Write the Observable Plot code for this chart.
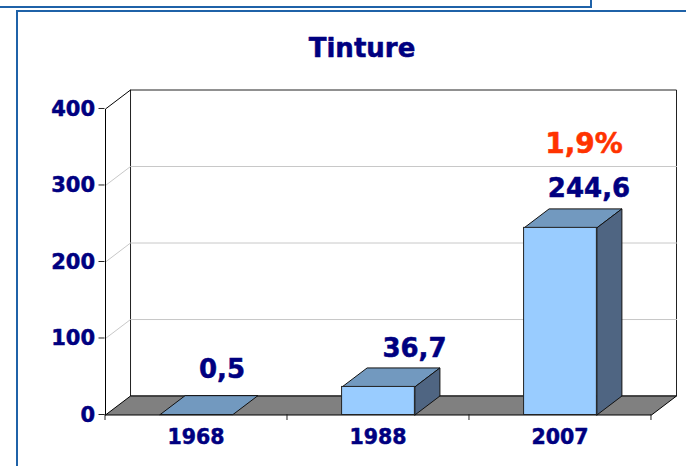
<!DOCTYPE html>
<html>
<head>
<meta charset="utf-8">
<script src="https://cdn.jsdelivr.net/npm/d3@7"></script>
<script src="https://cdn.jsdelivr.net/npm/@observablehq/plot@0.6"></script>
<style>
html,body{margin:0;padding:0;background:#fff;width:686px;height:466px;overflow:hidden}
#panelA{position:absolute;left:-4px;top:-4px;width:592px;height:8px;border:2px solid #1f62a8}
#panelB{position:absolute;left:16px;top:10px;width:700px;height:500px;border:2px solid #1f62a8}
#chart{position:absolute;left:0;top:0}
</style>
</head>
<body>
<div id="panelA"></div>
<div id="panelB"></div>
<div id="chart"></div>
<script>
const chartTitle = "Tinture";
const categories = ["1968", "1988", "2007"];
const values = [0.5, 36.7, 244.6];
const valueLabels = ["0,5", "36,7", "244,6"];
const shareLabel = "1,9%";
const yTicks = [0, 100, 200, 300, 400];
const gridValues = [100, 200, 300];

const navy = "#000080";
const font = "'DejaVu Sans', Verdana, sans-serif";
const depthX = 0.1375, depthY = 24.8, barHalf = 0.2;

const closed = (id, pts) => [...pts, pts[0]].map(([x, y]) => ({id, x, y}));
const bars = values.map((v, i) => ({x1: i + 0.5 - barHalf, x2: i + 0.5 + barHalf, v, i}));
const topFaces = bars.flatMap(b => closed(b.i, [[b.x1, b.v], [b.x2, b.v], [b.x2 + depthX, b.v + depthY], [b.x1 + depthX, b.v + depthY]]));
const sideFaces = bars.slice(1).flatMap(b => closed(b.i, [[b.x2, 0], [b.x2, b.v], [b.x2 + depthX, b.v + depthY], [b.x2 + depthX, depthY]]));
const floor = closed(0, [[0, 0], [3, 0], [3 + depthX, depthY], [depthX, depthY]]);
const back = closed(0, [[depthX, depthY], [3 + depthX, depthY], [3 + depthX, 400 + depthY], [depthX, 400 + depthY]]);
const leftEdges = [
  {id: 0, x: 0, y: 0}, {id: 0, x: 0, y: 400}, {id: 0, x: depthX, y: 400 + depthY}
];
const gridLines = gridValues.flatMap(v => [
  {id: v, x: 0, y: v}, {id: v, x: depthX, y: v + depthY}, {id: v, x: 3 + depthX, y: v + depthY}
]);
const text = (label, x, y, dx, dy, fill = navy, fontSize = 26) => Plot.text([label], {
  x: () => x, y: () => y, dx, dy, fill, stroke: fill, strokeWidth: 0.5, fontSize, fontWeight: "bold", fontFamily: font
});

const plot = Plot.plot({
  width: 686, height: 466,
  marginLeft: 105, marginRight: 10, marginTop: 89.5, marginBottom: 51.5,
  style: {background: "transparent", fontFamily: font, overflow: "visible"},
  x: {domain: [0, 3 + depthX]},
  y: {domain: [0, 400 + depthY]},
  marks: [
    Plot.line(back, {x: "x", y: "y", z: "id", fill: "#fff", stroke: "#222", strokeWidth: 1}),
    Plot.line(gridLines, {x: "x", y: "y", z: "id", stroke: "#c8c8c8", strokeWidth: 1}),
    Plot.line(leftEdges, {x: "x", y: "y", z: "id", stroke: "#000", strokeWidth: 1}),
    Plot.line(floor, {x: "x", y: "y", z: "id", fill: "#808080", stroke: "#000", strokeWidth: 1}),
    Plot.line(topFaces, {x: "x", y: "y", z: "id", fill: "#7299bf", stroke: "#111", strokeWidth: 1}),
    Plot.line(sideFaces, {x: "x", y: "y", z: "id", fill: "#4f6582", stroke: "#111", strokeWidth: 1}),
    Plot.rect(bars.slice(1), {x1: "x1", x2: "x2", y1: 0, y2: "v", fill: "#99ccff", stroke: "#222", strokeWidth: 1}),
    Plot.axisY({ticks: yTicks, tickSize: 6, fill: "none", stroke: "#222", label: null, dx: -0.5, dy: -0.5}),
    Plot.axisY({
      ticks: yTicks, tickSize: 0, tickPadding: 10, label: null, color: navy,
      textStroke: navy, textStrokeWidth: 0.5, dx: -0.5,
      fontSize: 21, fontWeight: "bold", fontFamily: font
    }),
    Plot.axisX({ticks: [0, 1, 2, 3], tickSize: 6, fill: "none", stroke: "#222", label: null, dx: -0.5, dy: -0.5}),
    Plot.axisX({
      ticks: categories.map((c, i) => i + 0.5), tickSize: 0, tickPadding: 14, label: null, color: navy,
      tickFormat: t => categories[Math.floor(t)], textStroke: navy, textStrokeWidth: 0.5, dx: -0.5,
      fontSize: 20.5, fontWeight: "bold", fontFamily: font
    }),
    text(valueLabels[0], 0.5, values[0], 25.5, -45),
    text(valueLabels[1], 1.5, values[1], 36, -38),
    text(valueLabels[2], 2.5, values[2], 28.5, -39),
    text(shareLabel, 2.5, values[2], 23.5, -84, "#ff3300", 28),
    Plot.text([chartTitle], {
      frameAnchor: "top", dx: -29, dy: -51, fill: navy, stroke: navy, strokeWidth: 0.5,
      fontSize: 26, fontWeight: "bold", fontFamily: font
    })
  ]
});
document.getElementById("chart").append(plot);
</script>
</body>
</html>
